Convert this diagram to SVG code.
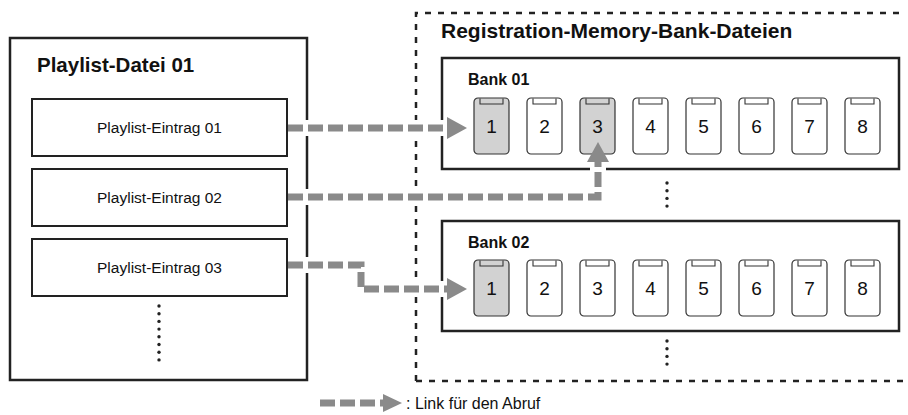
<svg xmlns="http://www.w3.org/2000/svg" width="908" height="415" viewBox="0 0 908 415">
<style>
.box{fill:#fff;stroke:#222;stroke-width:2.5}
.entry{fill:#fff;stroke:#222;stroke-width:2}
.t{font-family:"Liberation Sans",Arial,sans-serif;fill:#111}
.title{font-size:20.5px;font-weight:bold}
.bank{font-size:16px;font-weight:bold}
.et{font-size:15.5px;text-anchor:middle}
.num{font-size:19px;text-anchor:middle}
.btn{fill:#fff;stroke:#333;stroke-width:1.2}
.on{fill:#d2d2d2}
.tab{fill:none;stroke:#333;stroke-width:1.1}
.halo{fill:none;stroke:#fff;stroke-width:16}
.link{fill:none;stroke:#8a8a8a;stroke-width:7;stroke-dasharray:15 5}
.head{fill:#8a8a8a}
.dot{fill:#222}
.dash{fill:none;stroke:#222;stroke-width:2.5;stroke-dasharray:6 7}
</style>
<defs>
<g id="bt"><path class="tab" d="M6,0.5 V6 H29 V0.5"/></g>
<g id="dots4"><circle cx="0" cy="0" r="1.7"/><circle cx="0" cy="7.7" r="1.7"/><circle cx="0" cy="15.4" r="1.7"/><circle cx="0" cy="23.1" r="1.7"/></g>
</defs>

<g id="playlist-file">
<rect class="box" x="10" y="38" width="297" height="342"/>
<text class="t title" x="37" y="72">Playlist-Datei 01</text>
<g class="dot" transform="translate(159,306)"><use href="#dots4"/><use href="#dots4" y="30.8"/></g>
</g>
<g id="entry-01"><rect class="entry" x="32" y="99" width="255" height="57"/><text class="t et" x="159.5" y="133">Playlist-Eintrag 01</text></g>
<g id="entry-02"><rect class="entry" x="32" y="169" width="255" height="57"/><text class="t et" x="159.5" y="203">Playlist-Eintrag 02</text></g>
<g id="entry-03"><rect class="entry" x="32" y="239" width="255" height="57"/><text class="t et" x="159.5" y="273">Playlist-Eintrag 03</text></g>

<g id="registration-files">
<path class="dash" d="M416,381 V13 H906 M416,381 H906"/>
<text class="t title" x="441" y="38" style="font-size:21px">Registration-Memory-Bank-Dateien</text>
<g class="dot" transform="translate(667,183)"><use href="#dots4"/></g>
<g class="dot" transform="translate(667,341)"><use href="#dots4"/></g>
</g>

<g id="bank-01">
<rect class="box" x="442" y="58" width="457" height="111"/>
<text class="t bank" x="468" y="85">Bank 01</text>
<g transform="translate(474,98)"><rect class="btn on" x="0" y="0" width="35" height="56" rx="4"/><use href="#bt"/><text class="t num" x="17.5" y="35">1</text></g>
<g transform="translate(527,98)"><rect class="btn" x="0" y="0" width="35" height="56" rx="4"/><use href="#bt"/><text class="t num" x="17.5" y="35">2</text></g>
<g transform="translate(580,98)"><rect class="btn on" x="0" y="0" width="35" height="56" rx="4"/><use href="#bt"/><text class="t num" x="17.5" y="35">3</text></g>
<g transform="translate(633,98)"><rect class="btn" x="0" y="0" width="35" height="56" rx="4"/><use href="#bt"/><text class="t num" x="17.5" y="35">4</text></g>
<g transform="translate(686,98)"><rect class="btn" x="0" y="0" width="35" height="56" rx="4"/><use href="#bt"/><text class="t num" x="17.5" y="35">5</text></g>
<g transform="translate(739,98)"><rect class="btn" x="0" y="0" width="35" height="56" rx="4"/><use href="#bt"/><text class="t num" x="17.5" y="35">6</text></g>
<g transform="translate(792,98)"><rect class="btn" x="0" y="0" width="35" height="56" rx="4"/><use href="#bt"/><text class="t num" x="17.5" y="35">7</text></g>
<g transform="translate(845,98)"><rect class="btn" x="0" y="0" width="35" height="56" rx="4"/><use href="#bt"/><text class="t num" x="17.5" y="35">8</text></g>
</g>

<g id="bank-02">
<rect class="box" x="442" y="221" width="457" height="110"/>
<text class="t bank" x="468" y="248">Bank 02</text>
<g transform="translate(474,260)"><rect class="btn on" x="0" y="0" width="35" height="56" rx="4"/><use href="#bt"/><text class="t num" x="17.5" y="35">1</text></g>
<g transform="translate(527,260)"><rect class="btn" x="0" y="0" width="35" height="56" rx="4"/><use href="#bt"/><text class="t num" x="17.5" y="35">2</text></g>
<g transform="translate(580,260)"><rect class="btn" x="0" y="0" width="35" height="56" rx="4"/><use href="#bt"/><text class="t num" x="17.5" y="35">3</text></g>
<g transform="translate(633,260)"><rect class="btn" x="0" y="0" width="35" height="56" rx="4"/><use href="#bt"/><text class="t num" x="17.5" y="35">4</text></g>
<g transform="translate(686,260)"><rect class="btn" x="0" y="0" width="35" height="56" rx="4"/><use href="#bt"/><text class="t num" x="17.5" y="35">5</text></g>
<g transform="translate(739,260)"><rect class="btn" x="0" y="0" width="35" height="56" rx="4"/><use href="#bt"/><text class="t num" x="17.5" y="35">6</text></g>
<g transform="translate(792,260)"><rect class="btn" x="0" y="0" width="35" height="56" rx="4"/><use href="#bt"/><text class="t num" x="17.5" y="35">7</text></g>
<g transform="translate(845,260)"><rect class="btn" x="0" y="0" width="35" height="56" rx="4"/><use href="#bt"/><text class="t num" x="17.5" y="35">8</text></g>
</g>

<g id="connectors">
<path class="halo" d="M290,128 H447 M290,197 H598 V162 M290,265 H361 V289 H447"/>
<path class="link" d="M288,128 H447"/>
<polygon class="head" points="447,117 467,128 447,139"/>
<path class="link" d="M288,197 H598 V162"/>
<polygon class="head" points="587,162 598,142 609,162"/>
<path class="link" d="M288,265 H361 V289 H447"/>
<polygon class="head" points="447,278 467,289 447,300"/>
</g>

<g id="legend">
<path class="link" d="M320,403 H383"/>
<polygon class="head" points="383,394 402,403 383,412"/>
<text class="t" x="406" y="409" style="font-size:16px">: Link für den Abruf</text>
</g>
</svg>
